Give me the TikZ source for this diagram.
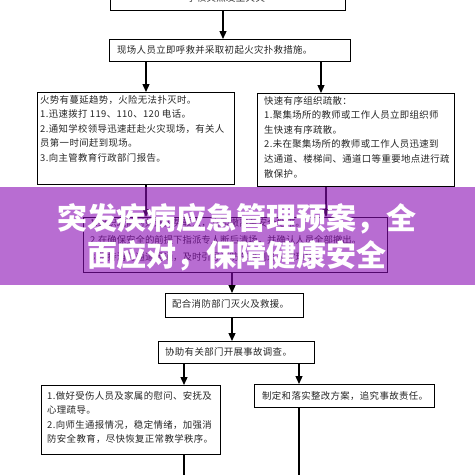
\documentclass[tikz,border=0pt]{standalone}
\usepackage{fontspec}
\setmainfont{Noto Sans CJK SC}
\usetikzlibrary{arrows.meta}
\definecolor{band}{RGB}{138,13,180}
\tikzset{
  box/.style={draw=black, line width=0.9pt, rectangle, inner sep=0pt, anchor=north west},
  txt/.style={anchor=north west, inner sep=0pt, align=left, font=\fontsize{9.4}{14.6}\selectfont\addfontfeatures{LetterSpace=4}, text=black!85},
  arr/.style={line width=1.3pt, -{Triangle[width=7pt,length=8pt]}},
  ln/.style={line width=1.3pt},
  titletext/.style={font=\fontsize{30}{37}\selectfont\bfseries, text=white, align=center}
}
\begin{document}
\begin{tikzpicture}[x=1pt,y=-1pt]
\useasboundingbox (0,0) rectangle (475,475);
\clip (0,0) rectangle (475,475);
\fill[white] (0,0) rectangle (475,475);
% columns
\coordinate (cA) at (223,0);
\coordinate (cL) at (146,0);
\coordinate (cR) at (321,0);
\coordinate (cR2) at (326,0);
\coordinate (cM) at (232,0);
\coordinate (cBL) at (184,0);
\coordinate (cBR) at (299,0);
\coordinate (eL) at (184,480);
\coordinate (eR) at (299,480);
% boxes
\node[box, minimum width=235, minimum height=30] (b0) at (110,-20) {};
\node[box, minimum width=241, minimum height=22] (b1) at (109,39) {};
\node[box, minimum width=197, minimum height=92] (bL) at (37,92) {};
\node[box, minimum width=197, minimum height=93] (bR) at (257,93) {};
\node[box, minimum width=304, minimum height=55] (bM) at (83,217) {};
\node[box, minimum width=138, minimum height=24] (b3) at (165,293) {};
\node[box, minimum width=156, minimum height=22] (b4) at (158,341) {};
\node[box, minimum width=179, minimum height=69] (bBL) at (41,385) {};
\node[box, minimum width=180, minimum height=23] (bBR) at (254,384) {};
% texts
\node[txt, anchor=center] (t0) at (226,-2) {学校突然发生火灾};
\node[txt, anchor=west] (t1) at (117,50) {现场人员立即呼救并采取初起火灾扑救措施。};
\node[txt] (tL) at (40,95) {火势有蔓延趋势，火险无法扑灭时。\\1.迅速拨打 119、110、120 电话。\\2.通知学校领导迅速赶赴火灾现场，有关人\\员第一时间赶到现场。\\3.向主管教育行政部门报告。};
\node[txt] (tR) at (264,96) {快速有序组织疏散：\\1.聚集场所的教师或工作人员立即组织师\\生快速有序疏散。\\2.未在聚集场所的教师或工作人员迅速到\\达通道、楼梯间、通道口等重要地点进行疏\\散保护。};
\node[txt, font=\fontsize{9.4}{17}\selectfont] (tM) at (90,218) {1.组织疏散时如遇火势较大，立即撤离至安全地带。\\2.在确保安全的前提下指派专人断后清场，并确认人员全部撤出。\\3.保持消防通道畅通，及时引导消防车辆到达火灾现场。};
\node[txt, anchor=west] (t3) at (172,304) {配合消防部门灭火及救援。};
\node[txt, anchor=west] (t4) at (165,352) {协助有关部门开展事故调查。};
\node[txt] (tBL) at (47,391) {1.做好受伤人员及家属的慰问、安抚及\\心理疏导。\\2.向师生通报情况，稳定情绪，加强消\\防安全教育，尽快恢复正常教学秩序。};
\node[txt, anchor=west] (tBR) at (262,396) {制定和落实整改方案，追究事故责任。};
% connectors
\draw[arr] (b0.south -| cA) -- (b1.north -| cA);
\draw[arr] (b1.south -| cL) -- (bL.north -| cL);
\draw[arr] (b1.south -| cR) -- (bR.north -| cR);
\draw[arr] (bL.south -| cL) -- (bM.north -| cL);
\draw[arr] (bR.south -| cR2) -- (bM.north -| cR2);
\draw[arr] (bM.south -| cM) -- (b3.north -| cM);
\draw[arr] (b3.south -| cM) -- (b4.north -| cM);
\draw[arr] (b4.south -| cBL) -- (bBL.north -| cBL);
\draw[arr] (b4.south -| cBR) -- (bBR.north -| cBR);
\draw[ln] (bBL.south -| cBL) -- (eL);
\draw[ln] (bBR.south -| cBR) -- (eR);
% overlay band and title
\fill[band, opacity=0.6] (0,187) rectangle (475,285);
\node[titletext] (tt) at (237,237) {突发疾病应急管理预案，全\\面应对，保障健康安全};
\end{tikzpicture}
\end{document}
